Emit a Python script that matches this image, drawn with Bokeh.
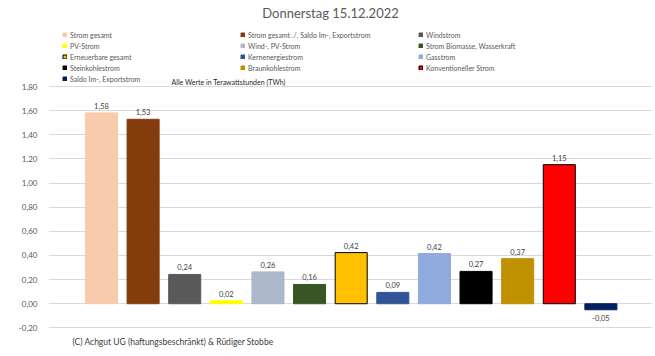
from bokeh.plotting import figure
from bokeh.models import (ColumnDataSource, Range1d, FixedTicker, Legend, LegendItem, Label)
from bokeh.core.properties import value
from bokeh.embed import file_html
from bokeh.resources import INLINE

title = "Donnerstag 15.12.2022"
categories = ["Strom gesamt", "Strom gesamt ./. Saldo Im-, Exportstrom", "Windstrom",
              "PV-Strom", "Wind-, PV-Strom", "Strom Biomasse, Wasserkraft",
              "Erneuerbare gesamt", "Kernenergiestrom", "Gasstrom",
              "Steinkohlestrom", "Braunkohlestrom", "Konventioneller Strom",
              "Saldo Im-, Exportstrom"]
values = [1.582, 1.529, 0.243, 0.024, 0.264, 0.160, 0.424, 0.094, 0.416, 0.268, 0.374, 1.153, -0.05]
colors = ["#F8CBAD", "#843C0C", "#595959", "#FFFF00", "#ADB9CA", "#375623",
          "#FFC000", "#2F5597", "#8FAADC", "#000000", "#BF9000", "#FF0000", "#002060"]
outlined = [False, False, False, False, False, False, True, False, False, False, False, True, False]
y_ticks = [-0.2, 0.0, 0.2, 0.4, 0.6, 0.8, 1.0, 1.2, 1.4, 1.6, 1.8]
unit_note = "Alle Werte in Terawattstunden (TWh)"
copyright_note = "(C) Achgut UG (haftungsbeschränkt) & Rüdiger Stobbe"

FONT = "Lato"
fmt = lambda v: f"{v:.2f}".replace(".", ",")

src = ColumnDataSource(dict(
    x=list(range(len(categories))),
    top=values,
    color=colors,
    line=["#000000" if o else c for o, c in zip(outlined, colors)],
    label=[fmt(v) for v in values],
    tb=["bottom" if v >= 0 else "top" for v in values],
    yoff=[-4 if v >= 0 else 5 for v in values],
))

p = figure(width=655, height=356, output_backend="svg", toolbar_location=None,
           x_range=Range1d(-1.273, 13.24), y_range=Range1d(-0.4373, 2.5137),
           min_border_left=48, min_border_right=3, min_border_top=0, min_border_bottom=0)
p.outline_line_color = None
p.background_fill_color = "white"
p.border_fill_color = "white"

r = p.vbar(x="x", top="top", bottom=0, width=0.77, source=src,
           fill_color="color", line_color="line", line_width=1)
p.text(x="x", y="top", text="label", source=src, text_align="center",
       text_baseline="tb", y_offset="yoff", text_font=value(FONT),
       text_font_size="7.5px", text_color="#404040")

p.xaxis.visible = False
p.xgrid.visible = False
yax = p.yaxis[0]
yax.ticker = FixedTicker(ticks=y_ticks)
yax.major_label_overrides = {t: fmt(t) for t in y_ticks}
yax.axis_line_color = None
yax.major_tick_line_color = None
yax.minor_tick_line_color = None
yax.major_label_text_font = FONT
yax.major_label_text_font_size = "8px"
yax.major_label_text_color = "#595959"
yax.major_label_standoff = 5
p.ygrid.ticker = FixedTicker(ticks=y_ticks)
p.ygrid.grid_line_color = "#D9D9D9"
p.ygrid.grid_line_width = 1

items = [LegendItem(label=c, renderers=[r], index=i) for i, c in enumerate(categories)]
legend = Legend(items=items, ncols=3, orientation="horizontal", location=(14, 273),
                glyph_width=5, glyph_height=5, label_standoff=3, label_width=168,
                label_height=9, spacing=2, padding=0, margin=0,
                label_text_font=FONT, label_text_font_size="7px", label_text_color="#595959",
                background_fill_alpha=0, border_line_color=None)
p.add_layout(legend, "center")

p.add_layout(Label(x=282, y=344, x_units="screen", y_units="screen", text=title,
                   text_align="center", text_baseline="middle", text_font=FONT,
                   text_font_size="13px", text_color="#595959"))
p.add_layout(Label(x=123, y=275, x_units="screen", y_units="screen", text=unit_note,
                   text_align="left", text_baseline="middle", text_font=FONT,
                   text_font_size="7px", text_color="#262626"))
p.add_layout(Label(x=24, y=15, x_units="screen", y_units="screen", text=copyright_note,
                   text_align="left", text_baseline="middle", text_font=FONT,
                   text_font_size="8.5px", text_color="#404040"))

open("out.html", "w").write(file_html(p, INLINE))
